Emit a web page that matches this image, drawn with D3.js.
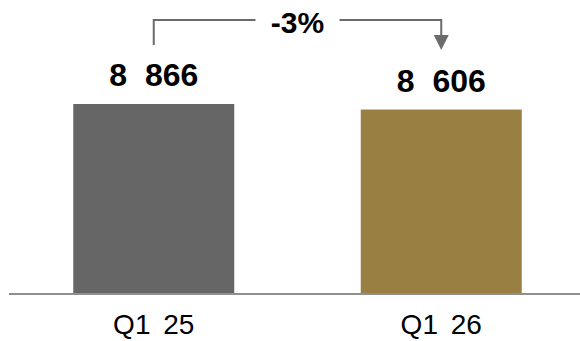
<!DOCTYPE html>
<html>
<head>
<meta charset="utf-8">
<script src="https://cdn.jsdelivr.net/npm/d3@7"></script>
<style>
  body { margin: 0; background: #fff; }
  svg { display: block; font-family: "Liberation Sans", Arial, sans-serif; }
</style>
</head>
<body>
<svg id="drawing_region"></svg>
<script>
// data
const categories = ["Q1 25", "Q1 26"];
const values = [8866, 8606];
const barColors = ["#666666", "#997f41"];
const changeLabel = "-3%";

const config = {
    width: 580,
    height: 341,
    baseline: 293
};

const svg = d3.select("#drawing_region")
    .attr("width", config.width)
    .attr("height", config.height);

const x = d3.scaleBand()
    .domain(categories)
    .range([10, 585])
    .paddingInner(0.44)
    .paddingOuter(0.22);

const y = d3.scaleLinear()
    .domain([0, 8866])
    .range([config.baseline, 104]);

const fmt = v => d3.format(",")(v).replace(/,/g, " ");

// bars
svg.selectAll("rect.bar")
    .data(values)
    .enter()
    .append("rect")
    .attr("class", "bar")
    .attr("x", (d, i) => x(categories[i]))
    .attr("y", d => y(d))
    .attr("width", x.bandwidth())
    .attr("height", d => y(0) - y(d))
    .attr("fill", (d, i) => barColors[i]);

// value labels
svg.selectAll("text.value")
    .data(values)
    .enter()
    .append("text")
    .attr("class", "value")
    .attr("x", (d, i) => x(categories[i]) + x.bandwidth() / 2)
    .attr("y", d => y(d) - 18)
    .attr("text-anchor", "middle")
    .attr("font-size", 32)
    .attr("font-weight", "bold")
    .attr("word-spacing", 9)
    .attr("fill", "#000")
    .text(d => fmt(d));

// baseline
svg.append("line")
    .attr("x1", 9)
    .attr("x2", config.width)
    .attr("y1", config.baseline + 1)
    .attr("y2", config.baseline + 1)
    .attr("stroke", "#8f8f8f")
    .attr("stroke-width", 2);

// category labels
svg.selectAll("text.cat")
    .data(categories)
    .enter()
    .append("text")
    .attr("class", "cat")
    .attr("x", d => x(d) + x.bandwidth() / 2)
    .attr("y", 334)
    .attr("text-anchor", "middle")
    .attr("font-size", 28)
    .attr("word-spacing", 5)
    .attr("fill", "#000")
    .text(d => d);

// change connector
const c1 = x(categories[0]) + x.bandwidth() / 2;
const c2 = x(categories[1]) + x.bandwidth() / 2;
const mid = (c1 + c2) / 2;
const topY = 20;
const gap = 42;
const lineColor = "#6b6b6b";

svg.append("path")
    .attr("d", `M${c1},45 V${topY} H${mid - gap}`)
    .attr("fill", "none")
    .attr("stroke", lineColor)
    .attr("stroke-width", 2);

svg.append("path")
    .attr("d", `M${mid + gap},${topY} H${c2} V37`)
    .attr("fill", "none")
    .attr("stroke", lineColor)
    .attr("stroke-width", 2);

svg.append("path")
    .attr("d", `M${c2 - 7.5},35 L${c2 + 7.5},35 L${c2},50 Z`)
    .attr("fill", lineColor);

svg.append("text")
    .attr("x", mid)
    .attr("y", 33)
    .attr("text-anchor", "middle")
    .attr("font-size", 30)
    .attr("font-weight", "bold")
    .attr("fill", "#000")
    .text(changeLabel);
</script>
</body>
</html>
